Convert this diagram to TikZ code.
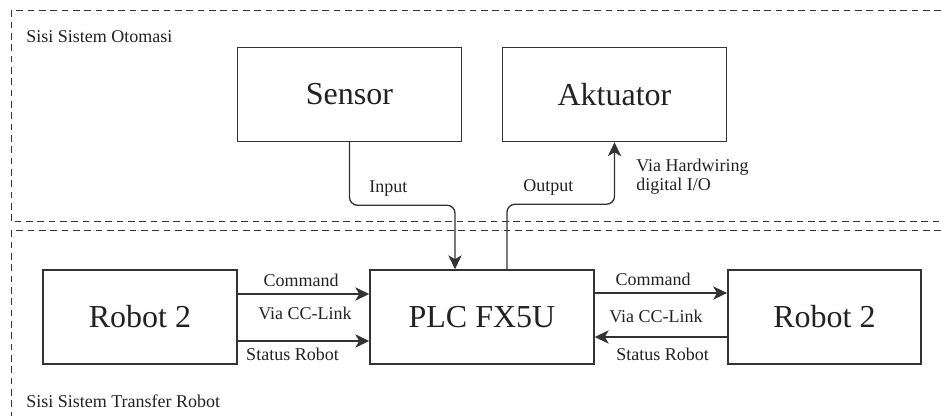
\documentclass[tikz,border=0pt]{standalone}
\usepackage{fontspec}
\setmainfont{Liberation Serif}
\usetikzlibrary{arrows.meta,positioning,calc}
\definecolor{ink}{HTML}{333333}
\definecolor{text}{HTML}{222222}
\tikzset{
  unit/.style={draw=ink, fill=white, line width=1.1pt, inner sep=0pt,
               minimum width=168pt, minimum height=70.5pt, text=text,
               font=\fontsize{24}{28}\selectfont},
  link/.style={-{Stealth[length=10.5pt,width=10pt,inset=3pt]}, line width=1pt, draw=ink},
  zone/.style={draw=ink, line width=0.75pt, dash pattern=on 5pt off 3.5pt},
  lbl/.style={font=\fontsize{13.5}{15}\selectfont, text=text, inner sep=0pt}
}

\begin{document}
\begin{tikzpicture}[x=0.75pt,y=-0.75pt]
        \useasboundingbox (0,0) rectangle (941,416);
        % zones
        \draw[zone] (941,11) -- (11,11) -- (11,222) -- (941,222);
        \draw[zone] (941,231) -- (11,231) -- (11,416);
        \node[lbl,anchor=base west] (zoneA) at (26,43) {Sisi Sistem Otomasi};
        \node[lbl,anchor=base west] (zoneB) at (26,407) {Sisi Sistem Transfer Robot};

        % blocks
        \node[unit] (sensor) at (349.5,94.5) {Sensor};
        \node[unit] (akt) at (614.5,94.5) {Aktuator};
        \node[unit,minimum width=145.5pt] (robotL) at (140,317) {Robot 2};
        \node[unit] (plc) at (482,317) {PLC FX5U};
        \node[unit,minimum width=145pt] (robotR) at (824.5,317) {Robot 2};

        % I/O wiring
        \draw[link,rounded corners=6pt] (sensor.south) -- ++(0,63)
          -| ([xshift=-20.25pt]plc.north);
        \draw[link,rounded corners=6pt] ([xshift=18.75pt]plc.north) -- ++(0,-65)
          -| (akt.south);
        \node[lbl,anchor=base west] (inlbl) at (369,193) {Input};
        \node[lbl,anchor=base west] (outlbl) at (523,192) {Output};
        \node[lbl,anchor=west,align=left] (hwlbl) at (636,177)
          {Via Hardwiring\\[-1pt]digital I/O};

        % CC-Link
        \draw[link] ([yshift=17.25pt]robotL.east) -- ([yshift=17.25pt]plc.west);
        \draw[link] ([yshift=-18pt]robotL.east) -- ([yshift=-18pt]plc.west);
        \draw[link] ([yshift=18pt]plc.east) -- ([yshift=18pt]robotR.west);
        \draw[link] ([yshift=-15pt]robotR.west) -- ([yshift=-15pt]plc.east);
        \node[lbl,anchor=base] (cmdL) at (301,286.5) {Command};
        \node[lbl,anchor=base] (viaL) at (305,320) {Via CC-Link};
        \node[lbl,anchor=base] (statL) at (292.5,360) {Status Robot};
        \node[lbl,anchor=base] (cmdR) at (653,286) {Command};
        \node[lbl,anchor=base] (viaR) at (656,322) {Via CC-Link};
        \node[lbl,anchor=base] (statR) at (662.5,360) {Status Robot};
      \end{tikzpicture}
\end{document}
